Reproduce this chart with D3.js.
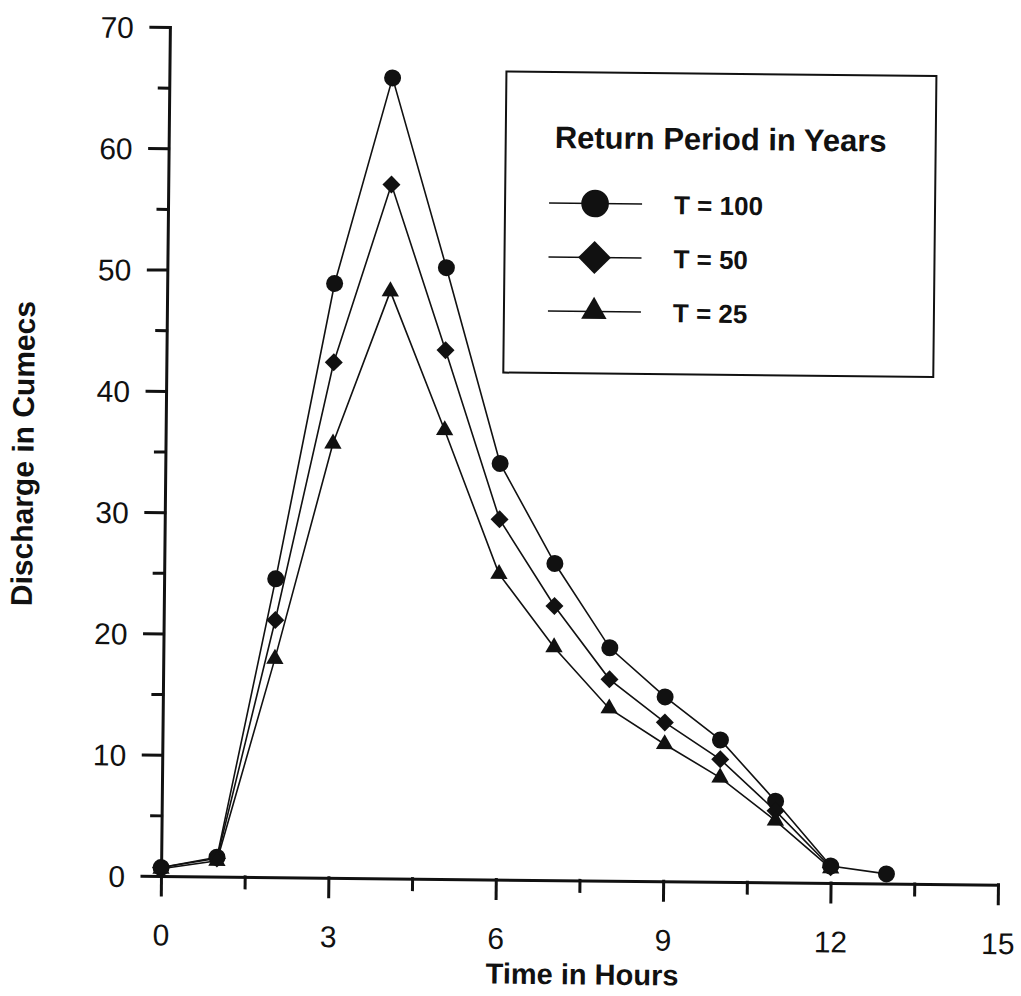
<!DOCTYPE html>
<html>
<head>
<meta charset="utf-8">
<script src="https://cdn.jsdelivr.net/npm/d3@7"></script>
<style>
	body { margin: 0; background: #fff; }
	svg { display: block; font-family: "Liberation Sans", Arial, sans-serif; }
</style>
</head>
<body>
<div id="chart"></div>
<script>
const hours = [0, 1, 2, 3, 4, 5, 6, 7, 8, 9, 10, 11, 12, 13];
const q100 = [0.7, 1.6, 24.6, 49.0, 66.0, 50.4, 34.3, 26.1, 19.2, 15.2, 11.7, 6.7, 1.4, 0.8];
const q50 = [0.7, 1.5, 21.2, 42.5, 57.2, 43.6, 29.7, 22.6, 16.6, 13.1, 10.1, 5.9, 1.3];
const q25 = [0.6, 1.3, 18.0, 35.8, 48.4, 37.0, 25.2, 19.2, 14.2, 11.3, 8.6, 5.1, 1.2];
const seriesNames = ["T = 100", "T = 50", "T = 25"];

const xTicks = [0, 3, 6, 9, 12, 15];
const xMinorTicks = [1.5, 4.5, 7.5, 10.5, 13.5];
const yTicks = [0, 10, 20, 30, 40, 50, 60, 70];
const yMinorTicks = [5, 15, 25, 35, 45, 55, 65];

const width = 1021;
const height = 996;
const plotW = 837;
const plotH = 849;

const svg = d3
	.select("#chart")
	.append("svg")
	.attr("width", width)
	.attr("height", height);

svg.append("rect").attr("width", width).attr("height", height).attr("fill", "#fff");

// the scanned page is turned a little, so the whole chart is too
const g = svg
	.append("g")
	.attr("transform", `translate(161,876) rotate(0.6) translate(0,${-plotH})`);

const x = d3.scaleLinear().domain([0, 15]).range([0, plotW]);
const y = d3.scaleLinear().domain([0, 70]).range([plotH, 0]);

// minor ticks first, no labels
g.append("g")
	.attr("transform", `translate(0,${plotH})`)
	.call(d3.axisBottom(x).tickValues(xMinorTicks).tickSize(11).tickFormat(""))
	.call((a) => a.select(".domain").remove());

g.append("g")
	.call(d3.axisLeft(y).tickValues(yMinorTicks).tickSize(10).tickFormat(""))
	.call((a) => a.select(".domain").remove());

const xAxis = g
	.append("g")
	.attr("transform", `translate(0,${plotH})`)
	.call(d3.axisBottom(x).tickValues(xTicks).tickSize(19).tickSizeOuter(0).tickPadding(29));

const yAxis = g
	.append("g")
	.call(d3.axisLeft(y).tickValues(yTicks).tickSize(19).tickSizeOuter(0).tickPadding(17));

g.selectAll(".tick line, .domain")
	.attr("stroke", "#111")
	.attr("stroke-width", 3)
	.attr("stroke-linecap", "square");

xAxis.selectAll("text").attr("font-size", 30).attr("fill", "#111");
yAxis.selectAll("text").attr("font-size", 30).attr("fill", "#111").attr("dy", "0.36em");

// axis titles
g.append("text")
	.attr("x", 422)
	.attr("y", plotH + 104)
	.attr("text-anchor", "middle")
	.attr("font-size", 29)
	.attr("font-weight", "bold")
	.attr("fill", "#111")
	.text("Time in Hours");

g.append("text")
	.attr("transform", `translate(-132,428) rotate(-90)`)
	.attr("text-anchor", "middle")
	.attr("font-size", 30)
	.attr("font-weight", "bold")
	.attr("fill", "#111")
	.text("Discharge in Cumecs");

// series
const series = [
	{ name: seriesNames[0], values: q100, shape: d3.symbolCircle, size: 227, rot: 0, legSize: 600 },
	{ name: seriesNames[1], values: q50, shape: d3.symbolSquare, size: 162, rot: 45, legSize: 540 },
	{ name: seriesNames[2], values: q25, shape: d3.symbolTriangle, size: 130, rot: 0, legSize: 280 },
];

const line = d3
	.line()
	.x((d) => x(d[0]))
	.y((d) => y(d[1]));

series.forEach((s) => {
	const pts = s.values.map((v, i) => [hours[i], v]);
	g.append("path")
		.datum(pts)
		.attr("d", line)
		.attr("fill", "none")
		.attr("stroke", "#111")
		.attr("stroke-width", 1.6);
});

series.forEach((s) => {
	const pts = s.values.map((v, i) => [hours[i], v]);
	g.selectAll(null)
		.data(pts)
		.enter()
		.append("path")
		.attr("d", d3.symbol(s.shape, s.size))
		.attr("transform", (d) => `translate(${x(d[0])},${y(d[1])}) rotate(${s.rot})`)
		.attr("fill", "#111");
});

// legend box
const legend = g.append("g").attr("transform", "translate(337,41)");

legend
	.append("rect")
	.attr("width", 430)
	.attr("height", 301)
	.attr("fill", "#fff")
	.attr("stroke", "#111")
	.attr("stroke-width", 2);

legend
	.append("text")
	.attr("x", 215)
	.attr("y", 76)
	.attr("text-anchor", "middle")
	.attr("font-size", 31)
	.attr("font-weight", "bold")
	.attr("fill", "#111")
	.text("Return Period in Years");

const rows = legend
	.selectAll(".row")
	.data(series)
	.enter()
	.append("g")
	.attr("class", "row")
	.attr("transform", (d, i) => `translate(0,${131 + i * 54})`);

rows.append("line")
	.attr("x1", 44)
	.attr("x2", 137)
	.attr("stroke", "#111")
	.attr("stroke-width", 1.6);

rows.append("path")
	.attr("d", (d) => d3.symbol(d.shape, d.legSize)())
	.attr("transform", (d) => `translate(90,0) rotate(${d.rot})`)
	.attr("fill", "#111");

rows.append("text")
	.attr("x", 169)
	.attr("y", 10)
	.attr("font-size", 26)
	.attr("font-weight", "bold")
	.attr("fill", "#111")
	.text((d) => d.name);
</script>
</body>
</html>
